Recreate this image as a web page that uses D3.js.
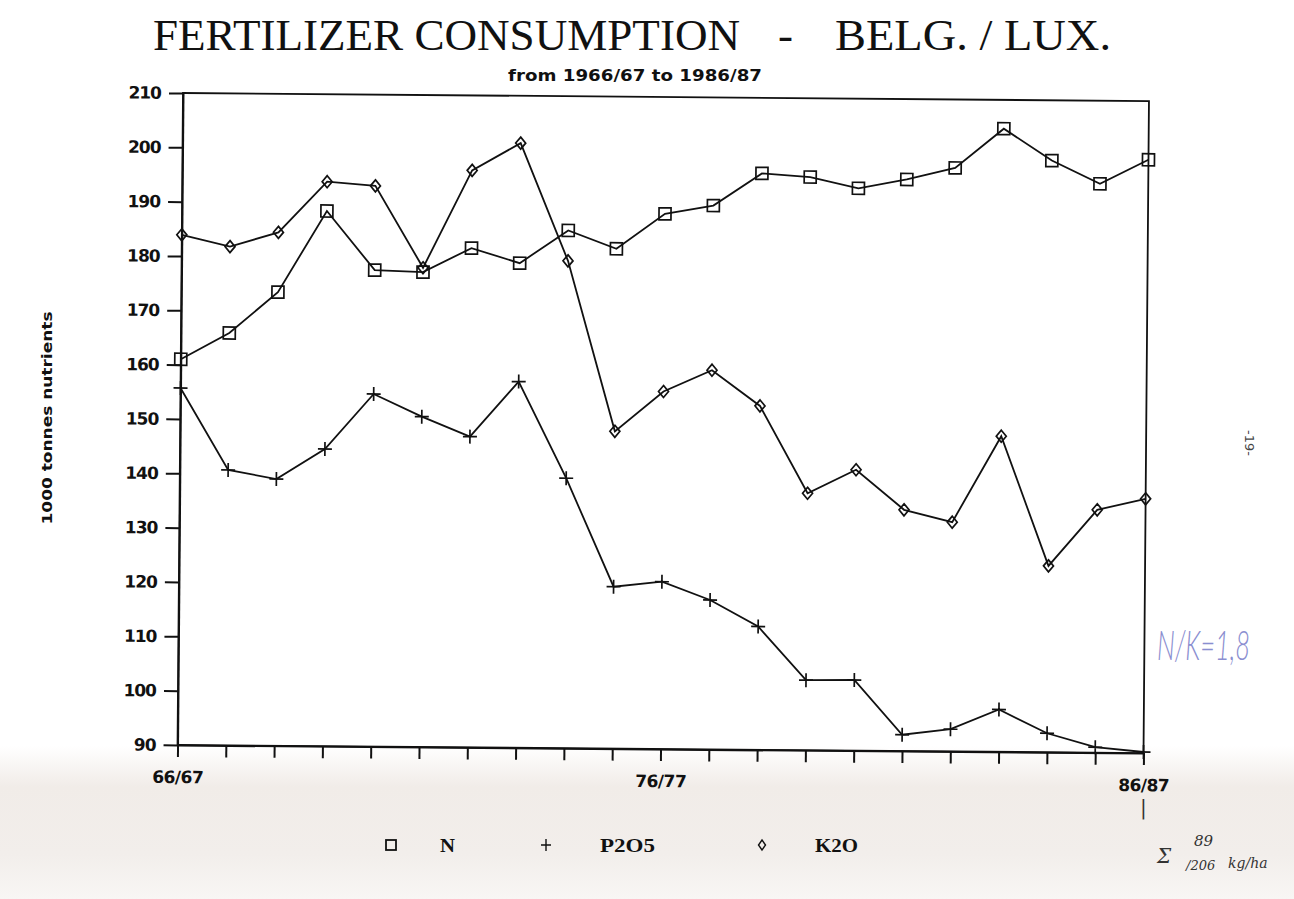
<!DOCTYPE html>
<html>
<head>
<meta charset="utf-8">
<script src="https://cdn.jsdelivr.net/npm/d3@7"></script>
<style>
  html, body { margin: 0; padding: 0; background: #fff; }
  svg { display: block; }
  .tick text { font-family: 'DejaVu Sans', sans-serif; font-weight: bold; font-size: 17px; fill: #111; }
</style>
</head>
<body>
<svg id="chart" width="1294" height="899"></svg>
<script>
// Chart data
const seasons = ["66/67","67/68","68/69","69/70","70/71","71/72","72/73","73/74","74/75","75/76",
                 "76/77","77/78","78/79","79/80","80/81","81/82","82/83","83/84","84/85","85/86","86/87"];
const labelledSeasons = ["66/67","76/77","86/87"];
const yTicks = [90,100,110,120,130,140,150,160,170,180,190,200,210];

const nValues    = [161.0,165.9,173.5,188.5,177.7,177.4,181.9,179.2,185.3,182.0,188.5,
                    190.1,196.1,195.5,193.5,195.2,197.4,204.7,198.9,194.7,199.2];
const p2o5Values = [155.7,140.7,139.1,144.7,154.9,150.8,147.2,157.4,139.7,119.8,120.8,
                    117.5,112.7,102.9,103.0,93.0,94.1,97.8,93.5,91.0,90.2];
const k2oValues  = [183.9,181.8,184.5,193.9,193.2,178.2,196.2,201.3,179.7,148.4,155.8,
                    159.8,153.3,137.3,141.7,134.4,132.2,148.1,124.3,134.7,136.8];

const series = [
    { name: "N",    values: nValues,    marker: "square" },
    { name: "P2O5", values: p2o5Values, marker: "cross" },
    { name: "K2O",  values: k2oValues,  marker: "diamond" }
];

const svg = d3.select('#chart');
const W = 1294, H = 899;

// scanned paper background, greyish band at the bottom
const defs = svg.append('defs');
const grad = defs.append('linearGradient').attr('id', 'paper')
    .attr('x1', 0).attr('y1', 0).attr('x2', 0).attr('y2', 1);
grad.append('stop').attr('offset', '0.83').attr('stop-color', '#ffffff');
grad.append('stop').attr('offset', '0.875').attr('stop-color', '#f1ece8');
grad.append('stop').attr('offset', '0.95').attr('stop-color', '#f2eeeb');
grad.append('stop').attr('offset', '1').attr('stop-color', '#f8f6f4');
svg.append('rect').attr('width', W).attr('height', H).attr('fill', 'url(#paper)');

// Title
const title = svg.append('text')
    .attr('font-family', "'Liberation Serif', serif")
    .attr('font-size', 45)
    .attr('fill', '#111');
title.append('tspan').attr('x', 153).attr('y', 50)
    .attr('textLength', 587).attr('lengthAdjust', 'spacingAndGlyphs')
    .text('FERTILIZER CONSUMPTION');
title.append('tspan').attr('x', 778).attr('y', 50).text('-');
title.append('tspan').attr('x', 835).attr('y', 50)
    .attr('textLength', 276).attr('lengthAdjust', 'spacingAndGlyphs')
    .text('BELG. / LUX.');

svg.append('text')
    .attr('x', 508).attr('y', 81)
    .attr('font-family', "'DejaVu Sans', sans-serif")
    .attr('font-weight', 'bold')
    .attr('font-size', 15)
    .attr('textLength', 254).attr('lengthAdjust', 'spacingAndGlyphs')
    .attr('fill', '#111')
    .text('from 1966/67 to 1986/87');

// Y axis title
svg.append('text')
    .attr('transform', 'translate(52,418) rotate(-90)')
    .attr('text-anchor', 'middle')
    .attr('font-family', "'DejaVu Sans', sans-serif")
    .attr('font-weight', 'bold')
    .attr('font-size', 14)
    .attr('textLength', 213).attr('lengthAdjust', 'spacingAndGlyphs')
    .attr('fill', '#111')
    .text('1000 tonnes nutrients');

// Plot area (the scan is tilted a little)
const plotX = 183, plotY = 93, plotW = 966, plotH = 652;
const g = svg.append('g')
    .attr('transform', `translate(${plotX},${plotY}) rotate(0.48)`);

const x = d3.scalePoint().domain(seasons).range([0, plotW]);
const y = d3.scaleLinear().domain([90, 210]).range([plotH, 0]);

g.append('rect')
    .attr('width', plotW).attr('height', plotH)
    .attr('fill', 'none').attr('stroke', '#111').attr('stroke-width', 1.8);

const yAxis = g.append('g')
    .call(d3.axisLeft(y).tickValues(yTicks).tickSize(14).tickSizeOuter(0).tickPadding(8));
const xAxis = g.append('g')
    .attr('transform', `translate(0,${plotH})`)
    .call(d3.axisBottom(x).tickSize(12).tickSizeOuter(0).tickPadding(14)
        .tickFormat(d => labelledSeasons.includes(d) ? d : ''));
[yAxis, xAxis].forEach(a => {
    a.selectAll('path, line').attr('stroke', '#111').attr('stroke-width', 2);
});
yAxis.selectAll('text').attr('letter-spacing', '-1px');
xAxis.selectAll('text').attr('font-size', 16).attr('letter-spacing', '-0.5px');

const line = d3.line()
    .x((d, i) => x(seasons[i]))
    .y(d => y(d));

function drawMarker(sel, type) {
    if (type === 'square') {
        sel.append('rect').attr('x', -6).attr('y', -6).attr('width', 12).attr('height', 12);
    } else if (type === 'cross') {
        sel.append('path').attr('d', 'M-7,0H7M0,-7V7');
    } else {
        sel.append('path').attr('d', 'M0,-6L5,0L0,6L-5,0Z');
    }
}

series.forEach(s => {
    g.append('path')
        .datum(s.values)
        .attr('d', line)
        .attr('fill', 'none')
        .attr('stroke', '#111')
        .attr('stroke-width', 1.8);

    g.selectAll(null)
        .data(s.values)
        .enter()
        .append('g')
        .attr('transform', (d, i) => `translate(${x(seasons[i])},${y(d)})`)
        .attr('fill', 'none')
        .attr('stroke', '#111')
        .attr('stroke-width', 1.7)
        .each(function() { drawMarker(d3.select(this), s.marker); });
});

// Legend
const legend = [
    { marker: 'square',  mx: 391, tx: 440, label: 'N',    len: 15 },
    { marker: 'cross',   mx: 546, tx: 600, label: 'P2O5', len: 55 },
    { marker: 'diamond', mx: 762, tx: 815, label: 'K2O',  len: 43 }
];
legend.forEach(l => {
    const m = svg.append('g')
        .attr('transform', `translate(${l.mx},845)`)
        .attr('fill', 'none').attr('stroke', '#111').attr('stroke-width', 1.8);
    if (l.marker === 'square') {
        m.append('rect').attr('x', -5).attr('y', -5).attr('width', 10).attr('height', 10);
    } else if (l.marker === 'cross') {
        m.append('path').attr('d', 'M-5,0H5M0,-6V6').attr('stroke-width', 1.4);
    } else {
        m.append('path').attr('d', 'M0,-5L3.5,0L0,5L-3.5,0Z').attr('stroke-width', 1.4);
    }
    svg.append('text')
        .attr('x', l.tx).attr('y', 852)
        .attr('font-family', "'Liberation Serif', serif")
        .attr('font-weight', 'bold')
        .attr('font-size', 19)
        .attr('textLength', l.len).attr('lengthAdjust', 'spacingAndGlyphs')
        .attr('fill', '#111')
        .text(l.label);
});

// Page number and handwritten notes
svg.append('text')
    .attr('transform', 'translate(1245,430) rotate(90)')
    .attr('font-family', "'DejaVu Sans', sans-serif")
    .attr('font-size', 13)
    .attr('fill', '#444')
    .text('-19-');

svg.append('text')
    .attr('transform', 'translate(1157,660) scale(0.85,1.35)')
    .attr('font-family', "Lato, 'Open Sans', sans-serif")
    .attr('font-style', 'italic')
    .attr('font-weight', 300)
    .attr('font-size', 30)
    .attr('fill', '#8a8ed0')
    .text('N/K=1,8');

const hand = svg.append('g')
    .attr('font-family', "'DejaVu Serif', serif")
    .attr('font-style', 'italic')
    .attr('fill', '#333');
hand.append('text').attr('x', 1140).attr('y', 814).attr('font-size', 20).text('|');
hand.append('text').attr('x', 1157).attr('y', 863).attr('font-size', 20).text('Σ');
hand.append('text').attr('x', 1194).attr('y', 846).attr('font-size', 15).text('89');
hand.append('text').attr('x', 1186).attr('y', 870).attr('font-size', 13).text('/206');
hand.append('text').attr('x', 1228).attr('y', 868).attr('font-size', 14).text('kg/ha');
</script>
</body>
</html>
